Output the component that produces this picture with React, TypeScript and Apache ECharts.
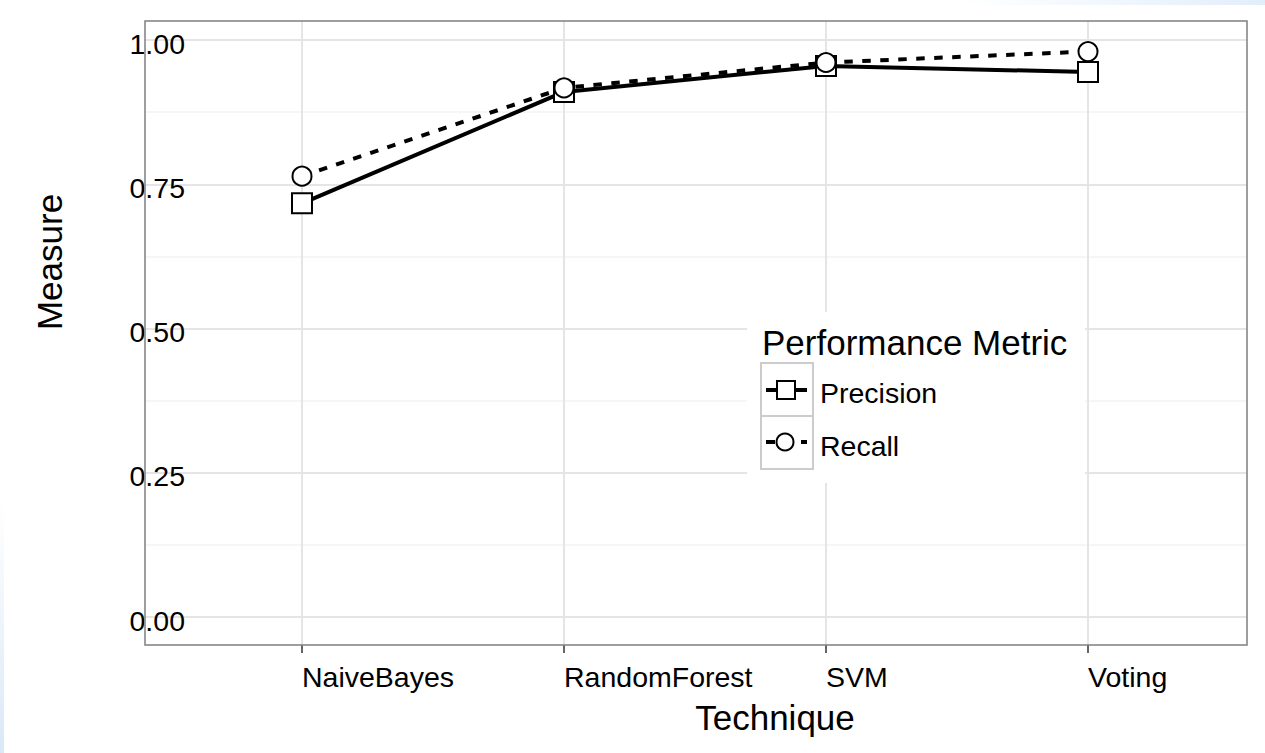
import React, { useEffect, useRef } from "react";
import * as echarts from "echarts";

const categories = ["NaiveBayes", "RandomForest", "SVM", "Voting"];
const precision = [0.717, 0.91, 0.955, 0.9445];
const recall = [0.764, 0.917, 0.961, 0.98];
const seriesNames = ["Precision", "Recall"];
const legendTitle = "Performance Metric";
const xTitle = "Technique";
const yTitle = "Measure";

const FONT = "'Liberation Sans', Arial, Helvetica, sans-serif";

export default function App() {
  const ref = useRef<HTMLDivElement>(null);
  useEffect(() => {
    if (!ref.current) return;
    const chart = echarts.init(ref.current, null, { renderer: "svg" });
    const hiddenAxis = {
      show: false,
      axisLine: { show: false },
      axisTick: { show: false },
      axisLabel: { show: false },
      splitLine: { show: false },
    };
    const LZ = 60;
    const option: any = {
      animation: false,
      backgroundColor: "#ffffff",
      textStyle: { fontFamily: FONT },
      grid: [
        // grid A: full panel width, y range 0..1 (grid lines)
        { left: 145, right: 18, top: 40, bottom: 136, containLabel: false },
        // grid B: category positions, full panel height
        { left: 302, right: 177, top: 21, bottom: 108, containLabel: false },
        // grid C: data
        { left: 302, right: 177, top: 40, bottom: 136, containLabel: false },
        // grid D: y tick labels (slightly lower, as in the reference)
        { left: 145, right: 18, top: 43.5, bottom: 132.5, containLabel: false },
      ],
      xAxis: [
        { gridIndex: 0, type: "value", min: 0, max: 1, ...hiddenAxis },
        {
          gridIndex: 1,
          type: "category",
          data: categories,
          boundaryGap: false,
          axisLine: { show: false },
          axisTick: { show: true, length: 8, lineStyle: { color: "#333333", width: 1.5 } },
          axisLabel: {
            show: true,
            align: "left",
            margin: 17,
            fontSize: 28.5,
            color: "#000000",
            fontFamily: FONT,
          },
          splitLine: { show: true, lineStyle: { color: "#e5e5e5", width: 2 } },
        },
        { gridIndex: 2, type: "category", data: categories, boundaryGap: false, ...hiddenAxis },
        { gridIndex: 3, type: "value", min: 0, max: 1, ...hiddenAxis },
      ],
      yAxis: [
        {
          gridIndex: 0,
          type: "value",
          min: 0,
          max: 1,
          interval: 0.25,
          axisLine: { show: false },
          axisTick: { show: false },
          axisLabel: { show: false },
          splitLine: { show: true, lineStyle: { color: "#e5e5e5", width: 2 } },
          minorTick: { show: false, splitNumber: 2 },
          minorSplitLine: { show: true, lineStyle: { color: "#f3f3f3", width: 1.5 } },
        },
        { gridIndex: 1, type: "value", min: 0, max: 1, ...hiddenAxis },
        { gridIndex: 2, type: "value", min: 0, max: 1, ...hiddenAxis },
        {
          gridIndex: 3,
          type: "value",
          min: 0,
          max: 1,
          interval: 0.25,
          axisLine: { show: false },
          axisTick: { show: false },
          splitLine: { show: false },
          axisLabel: {
            show: true,
            margin: -40,
            fontSize: 28.5,
            color: "#000000",
            fontFamily: FONT,
            formatter: (v: number) => v.toFixed(2),
          },
        },
      ],
      series: [
        {
          name: seriesNames[0] + " line",
          type: "line",
          xAxisIndex: 2,
          yAxisIndex: 2,
          data: precision,
          symbol: "none",
          z: 2,
          lineStyle: { color: "#000000", width: 4, type: "solid" },
        },
        {
          name: seriesNames[1] + " line",
          type: "line",
          xAxisIndex: 2,
          yAxisIndex: 2,
          data: recall,
          symbol: "none",
          z: 2,
          lineStyle: { color: "#000000", width: 4, type: [8.5, 9.5] },
        },
        {
          name: seriesNames[0],
          type: "scatter",
          xAxisIndex: 2,
          yAxisIndex: 2,
          data: precision,
          symbol: "rect",
          symbolSize: 20,
          z: 3,
          itemStyle: { color: "#ffffff", borderColor: "#000000", borderWidth: 2, opacity: 1 },
        },
        {
          name: seriesNames[1],
          type: "scatter",
          xAxisIndex: 2,
          yAxisIndex: 2,
          data: recall,
          symbol: "circle",
          symbolSize: 19,
          z: 4,
          itemStyle: { color: "#ffffff", borderColor: "#000000", borderWidth: 2, opacity: 1 },
        },
      ],
      graphic: [
        {
          type: "rect",
          z: 0,
          silent: true,
          shape: { x: 960, y: 0, width: 305, height: 5 },
          style: {
            fill: new echarts.graphic.LinearGradient(0, 0, 1, 0, [
              { offset: 0, color: "rgba(227,239,250,0)" },
              { offset: 1, color: "#e1eefa" },
            ]),
          },
        },
        {
          type: "rect",
          z: 0,
          silent: true,
          shape: { x: 0, y: 500, width: 4, height: 253 },
          style: {
            fill: new echarts.graphic.LinearGradient(0, 0, 0, 1, [
              { offset: 0, color: "rgba(219,233,247,0)" },
              { offset: 1, color: "#d9e8f7" },
            ]),
          },
        },
        {
          type: "rect",
          z: 40,
          silent: true,
          shape: { x: 145, y: 21, width: 1102, height: 624 },
          style: { fill: "none", stroke: "#7f7f7f", lineWidth: 1.5 },
        },
        {
          type: "text",
          z: 20,
          x: 775,
          y: 717,
          style: {
            text: xTitle,
            fontSize: 35,
            fontFamily: FONT,
            fill: "#000000",
            textAlign: "center",
            textVerticalAlign: "middle",
          },
        },
        {
          type: "text",
          z: 20,
          x: 49,
          y: 262,
          rotation: Math.PI / 2,
          style: {
            text: yTitle,
            fontSize: 35,
            fontFamily: FONT,
            fill: "#000000",
            textAlign: "center",
            textVerticalAlign: "middle",
          },
        },
        // legend
        {
          type: "rect",
          z: LZ,
          shape: { x: 747, y: 312, width: 338, height: 171 },
          style: { fill: "#ffffff" },
        },
        {
          type: "text",
          z: LZ + 1,
          x: 762,
          y: 342,
          style: {
            text: legendTitle,
            fontSize: 35,
            fontFamily: FONT,
            fill: "#000000",
            textAlign: "left",
            textVerticalAlign: "middle",
          },
        },
        {
          type: "rect",
          z: LZ + 1,
          shape: { x: 761, y: 363, width: 52, height: 53 },
          style: { fill: "#ffffff", stroke: "#cccccc", lineWidth: 2 },
        },
        {
          type: "rect",
          z: LZ + 1,
          shape: { x: 761, y: 416, width: 52, height: 53 },
          style: { fill: "#ffffff", stroke: "#cccccc", lineWidth: 2 },
        },
        {
          type: "line",
          z: LZ + 2,
          shape: { x1: 766, y1: 390, x2: 807, y2: 390 },
          style: { stroke: "#000000", lineWidth: 4 },
        },
        {
          type: "rect",
          z: LZ + 3,
          shape: { x: 777, y: 381, width: 18, height: 18 },
          style: { fill: "#ffffff", stroke: "#000000", lineWidth: 2 },
        },
        {
          type: "line",
          z: LZ + 2,
          shape: { x1: 766, y1: 442, x2: 775, y2: 442 },
          style: { stroke: "#000000", lineWidth: 4 },
        },
        {
          type: "line",
          z: LZ + 2,
          shape: { x1: 801, y1: 442, x2: 807, y2: 442 },
          style: { stroke: "#000000", lineWidth: 4 },
        },
        {
          type: "circle",
          z: LZ + 3,
          shape: { cx: 785, cy: 442, r: 8.5 },
          style: { fill: "#ffffff", stroke: "#000000", lineWidth: 2 },
        },
        {
          type: "text",
          z: LZ + 1,
          x: 820,
          y: 393,
          style: {
            text: seriesNames[0],
            fontSize: 28.5,
            fontFamily: FONT,
            fill: "#000000",
            textAlign: "left",
            textVerticalAlign: "middle",
          },
        },
        {
          type: "text",
          z: LZ + 1,
          x: 820,
          y: 446,
          style: {
            text: seriesNames[1],
            fontSize: 28.5,
            fontFamily: FONT,
            fill: "#000000",
            textAlign: "left",
            textVerticalAlign: "middle",
          },
        },
      ],
    };
    chart.setOption(option);
    return () => chart.dispose();
  }, []);
  return (
    <div
      ref={ref}
      style={{ position: "fixed", left: 0, top: 0, width: 1265, height: 753 }}
    />
  );
}
